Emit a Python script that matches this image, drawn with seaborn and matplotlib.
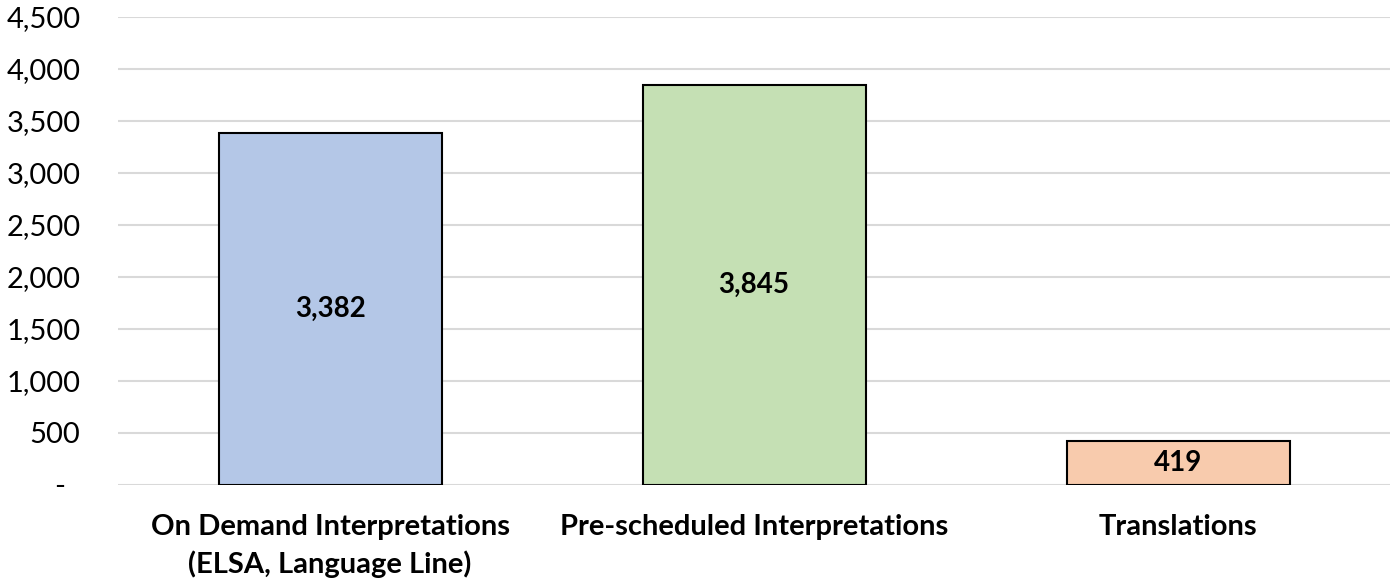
import numpy as np
import pandas as pd
import matplotlib
matplotlib.use('Agg')
import matplotlib.pyplot as plt
import seaborn as sns
from matplotlib.ticker import FuncFormatter

# datos
categorias = ["On Demand Interpretations\n(ELSA, Language Line)",
              "Pre-scheduled Interpretations",
              "Translations"]
valores = [3382, 3845, 419]
colores = ["#B4C7E7", "#C5E0B4", "#F8CBAD"]
ticks_y = [0, 500, 1000, 1500, 2000, 2500, 3000, 3500, 4000, 4500]

df = pd.DataFrame({"Categoria": categorias, "Valor": valores})

sns.set_theme(style="white")
plt.rcParams['font.family'] = ['Lato', 'DejaVu Sans']

fig = plt.figure(figsize=(14, 5.82), dpi=100)
ax = fig.add_axes([0.0843, 0.1667, 0.9087, 0.8041])

sns.barplot(data=df, x="Categoria", y="Valor", hue="Categoria", palette=colores,
            legend=False, ax=ax, width=0.526, edgecolor="black", linewidth=1.5,
            saturation=1, zorder=3)

ax.set_ylim(0, 4500)
ax.set_xlim(-0.5, 2.5)
ax.set_yticks(ticks_y)
ax.yaxis.set_major_formatter(FuncFormatter(lambda v, p: "-  " if v == 0 else f"{v:,.0f}"))
ax.grid(axis="y", color="#D9D9D9", linewidth=1.5, zorder=0)
ax.set_axisbelow(True)
for s in ax.spines.values():
    s.set_visible(False)
ax.tick_params(axis="y", length=0, pad=27, labelsize=21, labelcolor="black")
ax.tick_params(axis="x", length=0, pad=21, labelsize=21, labelcolor="black")
for lbl in ax.get_xticklabels():
    lbl.set_fontweight("bold")
    lbl.set_linespacing(1.45)
ax.set_xlabel("")
ax.set_ylabel("")

# etiquetas en las barras
for i, v in enumerate(valores):
    ax.text(i, v / 2, f"{v:,}", ha="center", va="center", fontsize=20, fontweight="bold",
            color="black", zorder=4)

plt.savefig("out.png", dpi=100)
plt.close()
